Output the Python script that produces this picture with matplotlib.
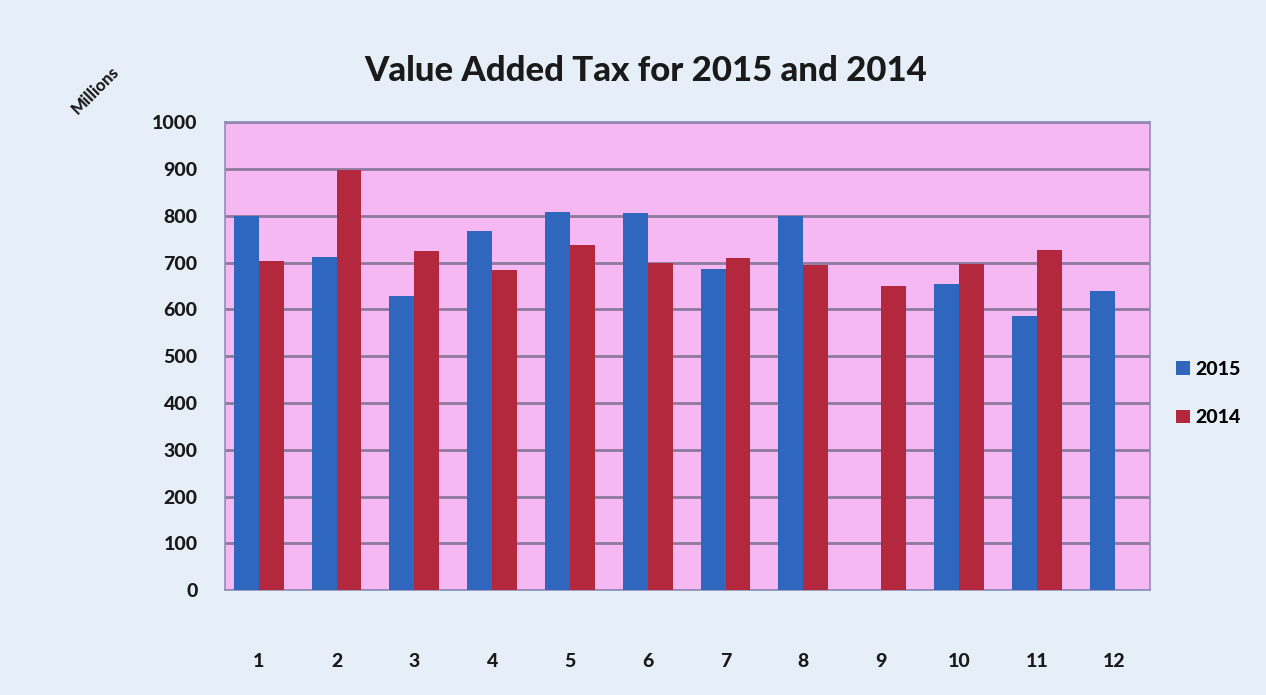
import matplotlib
matplotlib.use("Agg")
import matplotlib.pyplot as plt
import numpy as np

months = ["1", "2", "3", "4", "5", "6", "7", "8", "9", "10", "11", "12"]
vat_2015 = [800, 712, 628, 768, 808, 806, 686, 800, 0, 655, 585, 640]
vat_2014 = [703, 897, 724, 684, 738, 700, 710, 695, 650, 697, 728, 0]
yticks = [0, 100, 200, 300, 400, 500, 600, 700, 800, 900, 1000]

plt.rcParams['font.family'] = ['Lato', 'DejaVu Sans']

fig = plt.figure(figsize=(12.66, 6.95), dpi=100)
fig.patch.set_facecolor('#E6EEF8')
ax = fig.add_axes([0.178, 0.151, 0.730, 0.673])
ax.set_facecolor('#F6B8F2')

x = np.arange(len(months))
w = 0.32
ax.bar(x - w/2, vat_2015, width=w, color='#2F66BE', label='2015', zorder=3)
ax.bar(x + w/2, vat_2014, width=w, color='#B3283C', label='2014', zorder=3)

ax.set_ylim(0, 1000)
ax.set_xlim(-0.43, len(months) - 0.55)
ax.set_yticks(yticks)
ax.set_yticklabels([str(v) for v in yticks], fontsize=14, fontweight='black', color='#1A1A1A')
ax.set_xticks(x)
ax.set_xticklabels(months, fontsize=14, fontweight='black', color='#1A1A1A')
ax.tick_params(axis='both', length=0)
ax.tick_params(axis='x', pad=45)
ax.tick_params(axis='y', pad=20)
ax.yaxis.grid(True, color='#8E7A9E', linewidth=2, zorder=1)
for s in ax.spines.values():
    s.set_color('#8E8EB8')
    s.set_linewidth(1.2)

fig.text(0.51, 0.898, 'Value Added Tax for 2015 and 2014', ha='center', va='center',
         fontsize=25, fontweight='black', color='#1A1A1A')
fig.text(0.075, 0.87, 'Millions', ha='center', va='center', rotation=45,
         fontsize=12, fontweight='black', color='#1A1A1A')

leg = ax.legend(loc='center left', bbox_to_anchor=(1.01, 0.42), frameon=False,
                handlelength=0.7, handleheight=0.7, labelspacing=1.6, handletextpad=0.3,
                prop={'weight': 'black', 'size': 14})

fig.savefig('out.png', dpi=100, facecolor=fig.get_facecolor())
